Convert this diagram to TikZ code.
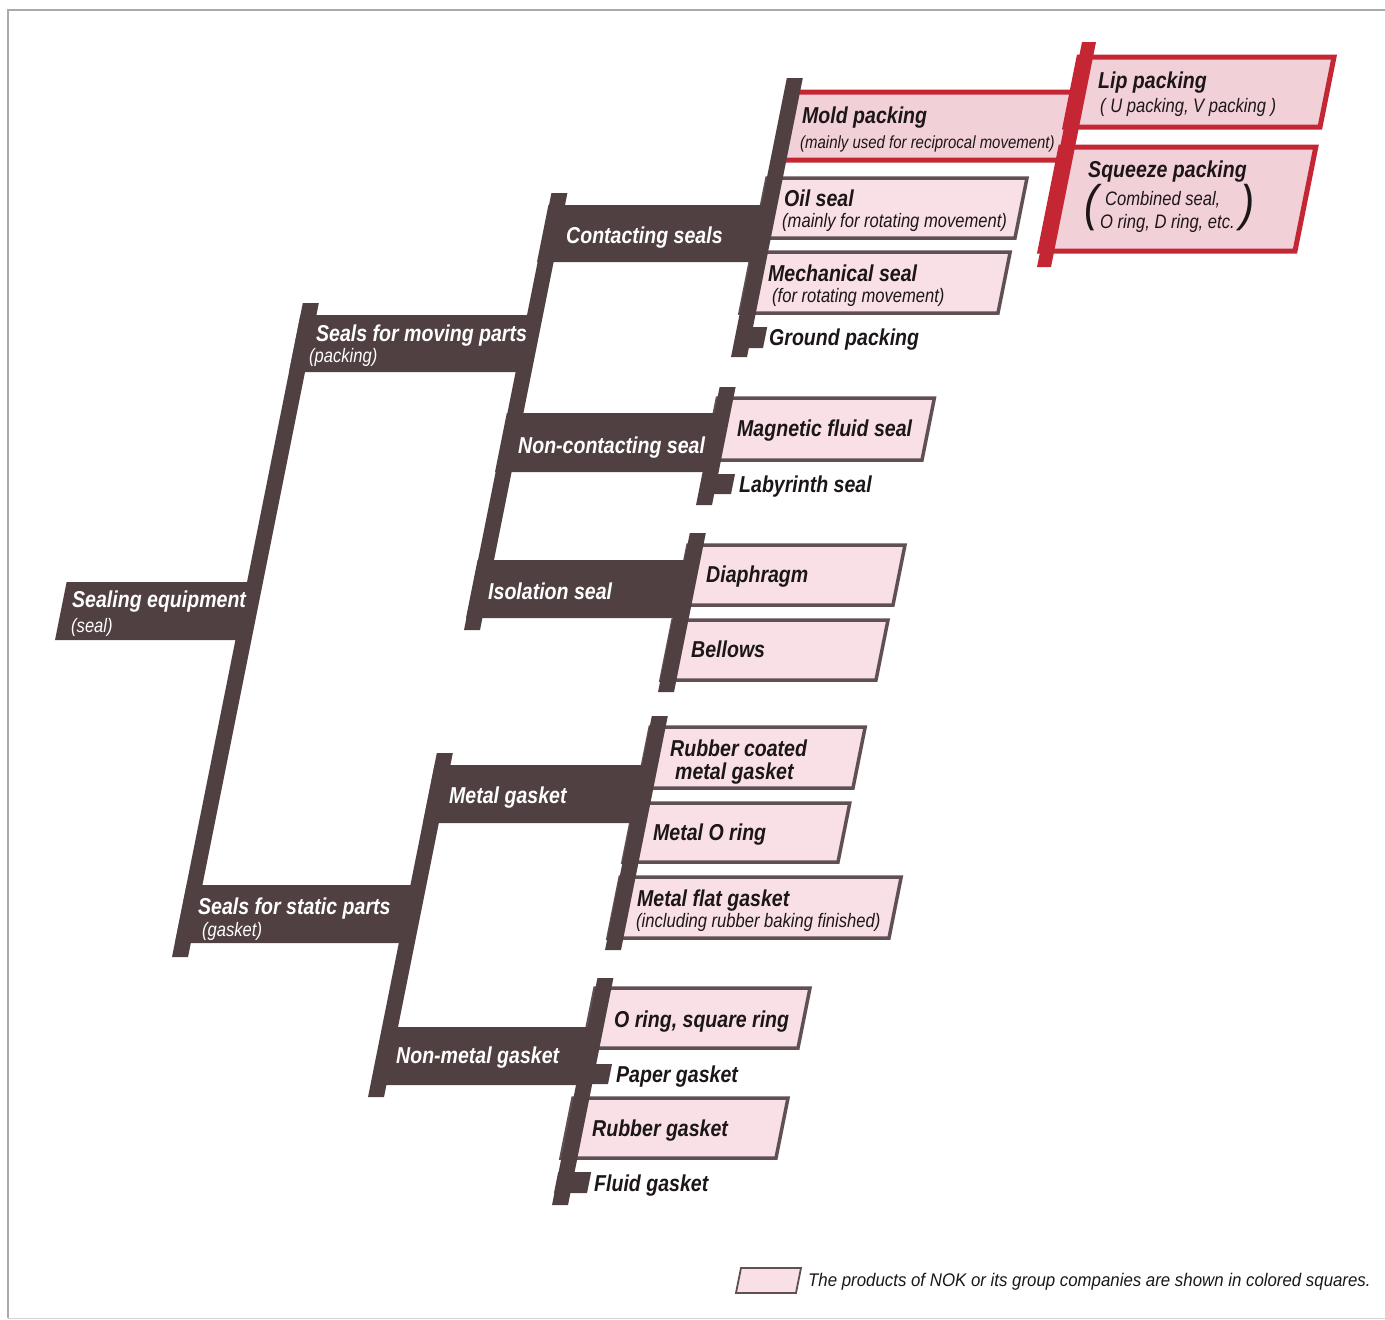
\documentclass[tikz,border=0pt]{standalone}
\usepackage{fontspec}
\newfontfamily\nokf{Liberation Sans}[FakeStretch=0.85]
\newfontfamily\nokl{Liberation Sans}[FakeStretch=0.92]
\definecolor{barc}{RGB}{80,64,65}
\definecolor{pinkc}{RGB}{248,224,230}
\definecolor{pinkr}{RGB}{242,208,216}
\definecolor{redc}{RGB}{196,38,52}
\definecolor{edgec}{RGB}{96,80,84}
\definecolor{inkc}{RGB}{28,22,24}
\definecolor{framec}{RGB}{170,170,170}
\newcommand{\plg}[5][]{%
  \pgfmathsetmacro{\plgsk}{0.2*(#4-#3)}%
  \path[#1] (#2,#4) -- ({#2+\plgsk},#3) -- ({#5+\plgsk},#3) -- (#5,#4) -- cycle;}
\tikzset{
  barsty/.style={fill=barc},
  redbar/.style={fill=redc},
  leafbox/.style={fill=pinkc, draw=edgec, line width=3.5pt},
  redbox/.style={fill=pinkr, draw=redc, line width=5pt},
  legbox/.style={fill=pinkc, draw=edgec, line width=1.8pt},
  hd/.style={font=\nokf\bfseries\itshape\fontsize{23}{23}\selectfont, anchor=base west, inner sep=0pt},
  sb/.style={font=\nokf\itshape\fontsize{19.5}{19.5}\selectfont, anchor=base west, inner sep=0pt},
  sbs/.style={font=\nokf\itshape\fontsize{17.6}{17.6}\selectfont, anchor=base west, inner sep=0pt},
  wt/.style={text=white},
  bk/.style={text=inkc},
}
\begin{document}
\begin{tikzpicture}[x=1pt,y=-1pt]
\useasboundingbox (0,0) rectangle (1385,1320);
% page frame
\draw[framec, line width=1.2pt] (8,1318) -- (8,10) -- (1385,10);
\draw[framec!50, line width=1pt] (8,1318) -- (1385,1318);

% pink leaves
\plg[leafbox]{755}{178}{238}{1015}
\plg[leafbox]{740}{252}{313}{998}
\plg[leafbox]{705}{398}{460}{922}
\plg[leafbox]{676}{545}{605}{893}
\plg[leafbox]{661}{620}{680}{876}
\plg[leafbox]{638}{727}{788}{853}
\plg[leafbox]{623}{803}{862}{838}
\plg[leafbox]{608}{877}{938}{889}
\plg[leafbox]{583}{988}{1048}{798}
\plg[leafbox]{561}{1098}{1158}{776}
% red group
\plg[redbox]{779}{92}{160}{1060}
\plg[redbox]{1065}{57}{127}{1320}
\plg[redbox]{1040}{147}{251}{1295}
\plg[redbar]{1037}{42}{267}{1051}

% dark bars
\plg[barsty]{172}{303}{957}{188}
\plg[barsty]{464}{193}{630}{480}
\plg[barsty]{368}{753}{1097}{384}
\plg[barsty]{731}{78}{357}{747}
\plg[barsty]{696}{387}{505}{712}
\plg[barsty]{658}{533}{692}{674}
\plg[barsty]{605}{716}{950}{621}
\plg[barsty]{552}{978}{1205}{568}
% dark bands
\plg[barsty]{55}{582}{640}{244}
\plg[barsty]{289}{315}{372}{523}
\plg[barsty]{175}{885}{943}{407}
\plg[barsty]{537}{205}{262}{758}
\plg[barsty]{495}{413}{472}{711}
\plg[barsty]{466}{560}{618}{681}
\plg[barsty]{423}{765}{823}{638}
\plg[barsty]{371}{1027}{1085}{584}
% tabs
\plg[barsty]{735}{327}{348}{763}
\plg[barsty]{700}{474}{494}{731}
\plg[barsty]{576}{1064}{1084}{608}
\plg[barsty]{554}{1172}{1193}{587}

% texts on dark bands
\node[hd,wt] (se) at (72,607) {Sealing equipment};
\node[sb,wt] (sep) at (71,632) {(seal)};
\node[hd,wt] (smp) at (316,341) {Seals for moving parts};
\node[sb,wt] (smpp) at (309,362) {(packing)};
\node[hd,wt] (ssp) at (198,914) {Seals for static parts};
\node[sb,wt] (sspp) at (202,936) {(gasket)};
\node[hd,wt] (cs) at (566,243) {Contacting seals};
\node[hd,wt] (ncs) at (518,453) {Non-contacting seal};
\node[hd,wt] (is) at (488,599) {Isolation seal};
\node[hd,wt] (mg) at (449,803) {Metal gasket};
\node[hd,wt] (nmg) at (396,1063) {Non-metal gasket};

% leaf texts
\node[hd,bk] (mold) at (802,123) {Mold packing};
\node[sbs,bk] (moldp) at (800,148) {(mainly used for reciprocal movement)};
\node[hd,bk] (oil) at (784,206) {Oil seal};
\node[sb,bk] (oilp) at (782,227) {(mainly for rotating movement)};
\node[hd,bk] (mech) at (768,281) {Mechanical seal};
\node[sb,bk] (mechp) at (772,302) {(for rotating movement)};
\node[hd,bk] (gp) at (769,345) {Ground packing};
\node[hd,bk] (lip) at (1098,88) {Lip packing};
\node[sb,bk] (lipp) at (1100,112) {( U packing, V packing )};
\node[hd,bk] (sq) at (1088,177) {Squeeze packing};
\node[sb,bk] (sq1) at (1105,205) {Combined seal,};
\node[sb,bk] (sq2) at (1100,228) {O ring, D ring, etc.};
\node[font=\nokf\itshape\fontsize{50}{50}\selectfont, text=inkc, inner sep=0pt] (sqa) at (1092,208) {(};
\node[font=\nokf\itshape\fontsize{50}{50}\selectfont, text=inkc, inner sep=0pt] (sqb) at (1248,208) {)};
\node[hd,bk] (mag) at (737,436) {Magnetic fluid seal};
\node[hd,bk] (lab) at (739,492) {Labyrinth seal};
\node[hd,bk] (dia) at (706,582) {Diaphragm};
\node[hd,bk] (bel) at (691,657) {Bellows};
\node[hd,bk] (rc1) at (670,756) {Rubber coated};
\node[hd,bk] (rc2) at (675,779) {metal gasket};
\node[hd,bk] (mor) at (653,840) {Metal O ring};
\node[hd,bk] (mfg) at (637,906) {Metal flat gasket};
\node[sb,bk] (mfgp) at (636,927) {(including rubber baking finished)};
\node[hd,bk] (ors) at (614,1027) {O ring, square ring};
\node[hd,bk] (pg) at (616,1082) {Paper gasket};
\node[hd,bk] (rg) at (592,1136) {Rubber gasket};
\node[hd,bk] (fg) at (594,1191) {Fluid gasket};

% legend
\plg[legbox]{736}{1268}{1293}{796}
\node[font=\nokl\itshape\fontsize{18.3}{18.3}\selectfont, text=inkc, anchor=base west, inner sep=0pt] (leg) at (808,1286) {The products of NOK or its group companies are shown in colored squares.};
\end{tikzpicture}
\end{document}
